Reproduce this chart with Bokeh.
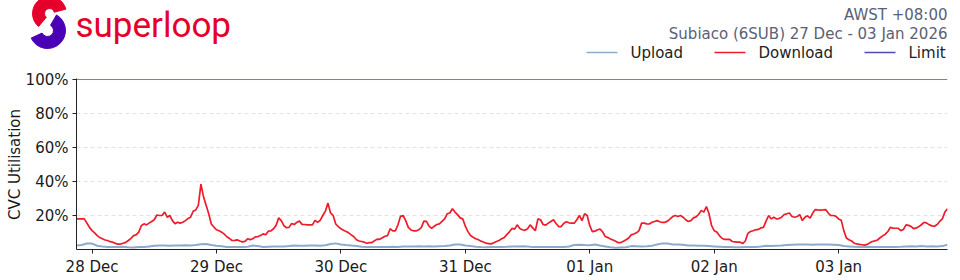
import math
import pandas as pd
from bokeh.plotting import figure
from bokeh.models import Range1d, FixedTicker, DatetimeTickFormatter, PrintfTickFormatter, Span
from bokeh.core.properties import value
from bokeh.embed import file_html
from bokeh.resources import INLINE

# ---------------- data ----------------
START = "2025-12-27 21:00"      # AWST
DOWNLOAD_STEP = "30min"
UPLOAD_STEP = "h"

DOWNLOAD = [
    18.0, 18.0, 18.0, 18.0, 15.6, 13.0, 11.1, 9.8, 8.2, 7.0, 6.3, 5.6,
    5.3, 4.6, 4.3, 3.6, 3.2, 3.2, 3.7, 4.2, 5.3, 6.5, 8.2, 8.6,
    10.2, 14.0, 15.1, 14.5, 15.5, 16.5, 17.5, 20.3, 20.0, 20.0, 22.0, 19.0,
    20.0, 17.0, 15.1, 16.0, 15.5, 16.0, 17.0, 18.2, 19.0, 22.5, 23.3, 26.0,
    38.5, 31.0, 26.0, 21.0, 15.0, 13.2, 11.6, 11.0, 10.2, 9.0, 7.5, 6.5,
    5.3, 5.4, 5.7, 5.0, 4.5, 4.8, 6.3, 5.8, 6.3, 7.4, 7.6, 8.2,
    9.2, 8.7, 10.8, 10.9, 12.2, 14.2, 18.6, 17.0, 14.1, 12.8, 13.0, 15.3,
    14.7, 16.0, 16.7, 14.8, 14.7, 14.5, 14.5, 14.5, 17.1, 16.0, 17.1, 20.0,
    22.5, 27.3, 21.5, 20.0, 15.0, 13.5, 12.2, 11.3, 10.6, 9.8, 8.6, 7.5,
    5.7, 5.0, 4.7, 4.3, 3.7, 4.0, 4.1, 5.2, 6.1, 6.0, 6.9, 7.8,
    8.2, 12.2, 11.0, 11.0, 14.5, 19.5, 20.0, 17.0, 13.0, 11.5, 11.0, 10.9,
    11.6, 12.9, 16.7, 16.5, 13.7, 12.4, 13.7, 14.7, 15.1, 16.5, 18.0, 21.0,
    21.5, 24.0, 22.0, 20.5, 18.6, 18.0, 13.7, 10.5, 8.2, 7.2, 6.3, 5.8,
    4.9, 4.4, 3.7, 3.5, 3.3, 4.0, 4.7, 5.3, 6.3, 7.0, 8.8, 10.4,
    12.4, 12.0, 14.5, 12.3, 11.6, 11.3, 12.2, 14.5, 12.7, 11.0, 18.0, 17.5,
    14.7, 14.3, 15.5, 16.5, 17.5, 15.3, 13.5, 13.5, 15.5, 16.3, 15.7, 15.5,
    15.5, 17.5, 20.0, 17.0, 21.0, 20.0, 14.0, 10.5, 10.8, 11.6, 12.0, 10.3,
    7.6, 7.0, 6.1, 5.6, 4.9, 4.0, 4.1, 4.8, 5.7, 6.8, 8.6, 9.1,
    9.8, 11.1, 15.5, 15.5, 15.1, 15.0, 16.0, 16.5, 17.0, 16.3, 15.9, 16.0,
    16.7, 18.0, 19.4, 20.0, 19.4, 20.0, 19.0, 17.5, 16.5, 17.0, 18.6, 19.2,
    20.6, 23.0, 22.0, 25.3, 21.0, 14.0, 11.1, 10.3, 8.2, 6.6, 5.9, 6.0,
    5.9, 4.7, 4.5, 4.3, 4.3, 3.5, 5.0, 9.5, 10.6, 11.0, 11.6, 11.8,
    12.7, 13.0, 16.7, 20.0, 18.0, 19.0, 18.0, 18.2, 19.0, 20.6, 21.0, 21.5,
    19.4, 19.0, 19.4, 20.5, 17.0, 19.0, 19.8, 18.5, 21.4, 23.5, 23.3, 23.2,
    23.3, 23.5, 21.4, 20.0, 20.0, 19.5, 18.0, 17.2, 11.1, 6.8, 5.7, 5.0,
    3.7, 3.3, 3.0, 2.8, 2.6, 3.0, 3.9, 4.7, 5.1, 5.6, 6.9, 8.0,
    9.0, 10.6, 13.1, 12.6, 12.5, 12.5, 11.1, 11.8, 14.5, 14.2, 13.5, 12.2,
    12.7, 13.5, 14.7, 16.0, 15.5, 14.5, 13.9, 13.7, 14.7, 16.5, 18.0, 22.0,
    24.0,
]

UPLOAD = [
    2.4, 2.6, 3.5, 3.5, 2.2, 1.8, 1.5, 1.4, 1.5, 1.6, 1.3, 1.2,
    1.4, 1.5, 1.8, 2.2, 2.4, 2.3, 2.2, 2.4, 2.3, 2.5, 2.4, 2.6,
    3.1, 3.2, 2.6, 2.2, 1.9, 1.5, 1.4, 1.4, 1.4, 1.6, 2.3, 2.0,
    1.5, 1.6, 1.7, 1.8, 1.8, 2.0, 2.4, 2.2, 2.2, 2.3, 2.4, 2.2,
    2.5, 3.2, 3.6, 3.0, 2.6, 2.3, 2.1, 1.6, 1.4, 1.4, 1.5, 1.4,
    1.5, 1.6, 1.5, 1.8, 1.8, 1.7, 1.9, 1.8, 1.9, 1.8, 1.9, 2.0,
    2.4, 2.9, 2.9, 2.4, 2.0, 1.6, 1.4, 1.3, 1.4, 1.4, 1.5, 1.6,
    1.8, 1.8, 1.9, 1.7, 1.4, 1.5, 1.4, 1.4, 1.5, 1.4, 1.5, 1.8,
    2.6, 2.8, 2.6, 2.5, 2.9, 2.3, 1.8, 1.3, 1.1, 1.2, 1.3, 2.0,
    1.9, 1.8, 1.9, 2.2, 3.0, 3.6, 3.5, 3.0, 2.9, 2.8, 2.4, 2.3,
    2.2, 2.2, 2.0, 1.8, 1.6, 1.4, 1.4, 1.3, 1.3, 1.4, 1.4, 1.5,
    1.7, 2.2, 2.1, 2.2, 2.3, 2.6, 2.8, 2.9, 2.9, 2.9, 2.8, 3.0,
    2.9, 3.0, 2.8, 2.6, 2.0, 1.8, 1.6, 1.5, 1.4, 1.4, 1.4, 1.5,
    1.4, 1.5, 1.5, 1.6, 1.8, 1.9, 1.8, 2.0, 1.8, 1.9, 1.8, 2.0,
    2.8,
]

LIMIT = 100
Y_TICKS = [20, 40, 60, 80, 100]
GRID_TICKS = [20, 40, 60, 80]
DAY_TICKS = ["2025-12-28", "2025-12-29", "2025-12-30", "2025-12-31",
             "2026-01-01", "2026-01-02", "2026-01-03"]
TITLE_TZ = "AWST +08:00"
TITLE_SITE = "Subiaco (6SUB) 27 Dec - 03 Jan 2026"
BRAND = "superloop"
SERIES = ["Upload", "Download", "Limit"]
COLORS = {"Upload": "#8eaacb", "Download": "#ee1c2b", "Limit": "#4b4bb3"}
Y_LABEL = "CVC Utilisation"

FONT = "DejaVu Sans"
TEXT_GREY = "#596175"

t_down = pd.date_range(START, periods=len(DOWNLOAD), freq=DOWNLOAD_STEP)
t_up = pd.date_range(START, periods=len(UPLOAD), freq=UPLOAD_STEP)

# ---------------- figure geometry ----------------
W, H = 960, 280
LEFT, RIGHT, TOP, BOTTOM = 76, 13, 78, 31

p = figure(width=W, height=H, x_axis_type="datetime",
           x_range=Range1d(t_down[0], t_down[-1]), y_range=Range1d(0, 100.6),
           output_backend="svg", toolbar_location=None,
           min_border_left=LEFT, min_border_right=RIGHT, min_border_top=TOP,
           min_border_bottom=BOTTOM)
p.outline_line_color = None
p.xgrid.visible = False
p.ygrid.ticker = FixedTicker(ticks=GRID_TICKS)
p.ygrid.grid_line_color = "#e3e3e3"
p.ygrid.grid_line_dash = "4 3"

# pixel-space ranges for the header decoration (y measured upward from canvas bottom)
p.extra_x_ranges = {"px": Range1d(LEFT, W - RIGHT)}
p.extra_y_ranges = {"px": Range1d(BOTTOM, H - TOP)}
PX = dict(x_range_name="px", y_range_name="px", level="overlay")


def Y(py):
    return H - py


# ---------------- series ----------------
p.add_layout(Span(location=LIMIT, dimension="width", line_color=COLORS["Limit"],
                  line_width=1, line_alpha=0.75))
p.line(t_up, UPLOAD, line_color=COLORS["Upload"], line_width=2.0)
p.line(t_down, DOWNLOAD, line_color=COLORS["Download"], line_width=1.7)

# ---------------- axes ----------------
day_ms = [pd.Timestamp(d).value / 1e6 for d in DAY_TICKS]
p.xaxis.ticker = FixedTicker(ticks=day_ms)
p.xaxis.formatter = DatetimeTickFormatter(days="%d %b", hours="%d %b", months="%d %b",
                                          minutes="%d %b", hourmin="%d %b")
p.yaxis.ticker = FixedTicker(ticks=Y_TICKS)
p.yaxis.formatter = PrintfTickFormatter(format="%d%%")

for ax in (p.xaxis[0], p.yaxis[0]):
    ax.axis_line_color = "#222222"
    ax.axis_line_width = 1
    ax.major_tick_line_color = "#222222"
    ax.major_tick_out = 4
    ax.major_tick_in = 0
    ax.minor_tick_line_color = None
    ax.major_label_text_font = FONT
    ax.major_label_text_font_size = "15px"
    ax.major_label_text_color = "#1a1a1a"
    ax.major_label_standoff = 4

# y-axis title
p.text(x=[14], y=[Y(164)], text=[Y_LABEL], angle=math.pi / 2, text_align="center",
       text_baseline="middle", text_font=value(FONT), text_font_size="15px",
       text_color="#1a1a1a", **PX)

# ---------------- header: logo ----------------
p.annular_wedge(x=[49], y=[Y(13)], inner_radius=5, outer_radius=17,
                start_angle=15, end_angle=230, start_angle_units="deg",
                end_angle_units="deg", color="#e4002b", **PX)
p.annular_wedge(x=[47], y=[Y(30)], inner_radius=6, outer_radius=18,
                start_angle=205, end_angle=420, start_angle_units="deg",
                end_angle_units="deg", color="#4a00b4", **PX)
p.text(x=[75], y=[Y(25)], text=[BRAND], text_font=value("Roboto"),
       text_font_size="35px", text_color="#e4002b", text_baseline="middle", **PX)

# ---------------- header: titles ----------------
p.text(x=[947], y=[Y(14)], text=[TITLE_TZ], text_align="right",
       text_baseline="middle", text_font=value(FONT), text_font_size="15px",
       text_color=TEXT_GREY, **PX)
p.text(x=[947], y=[Y(33)], text=[TITLE_SITE], text_align="right",
       text_baseline="middle", text_font=value(FONT), text_font_size="15px",
       text_color=TEXT_GREY, **PX)

# ---------------- header: legend ----------------
LEG_X = [586, 714, 864]
for name, lx in zip(SERIES, LEG_X):
    p.segment(x0=[lx], y0=[Y(52)], x1=[lx + 31], y1=[Y(52)],
              line_color=COLORS[name], line_width=1.5, **PX)
    p.text(x=[lx + 44], y=[Y(52)], text=[name], text_baseline="middle",
           text_font=value(FONT), text_font_size="15px", text_color="#222222", **PX)

open("out.html", "w").write(file_html(p, INLINE))
